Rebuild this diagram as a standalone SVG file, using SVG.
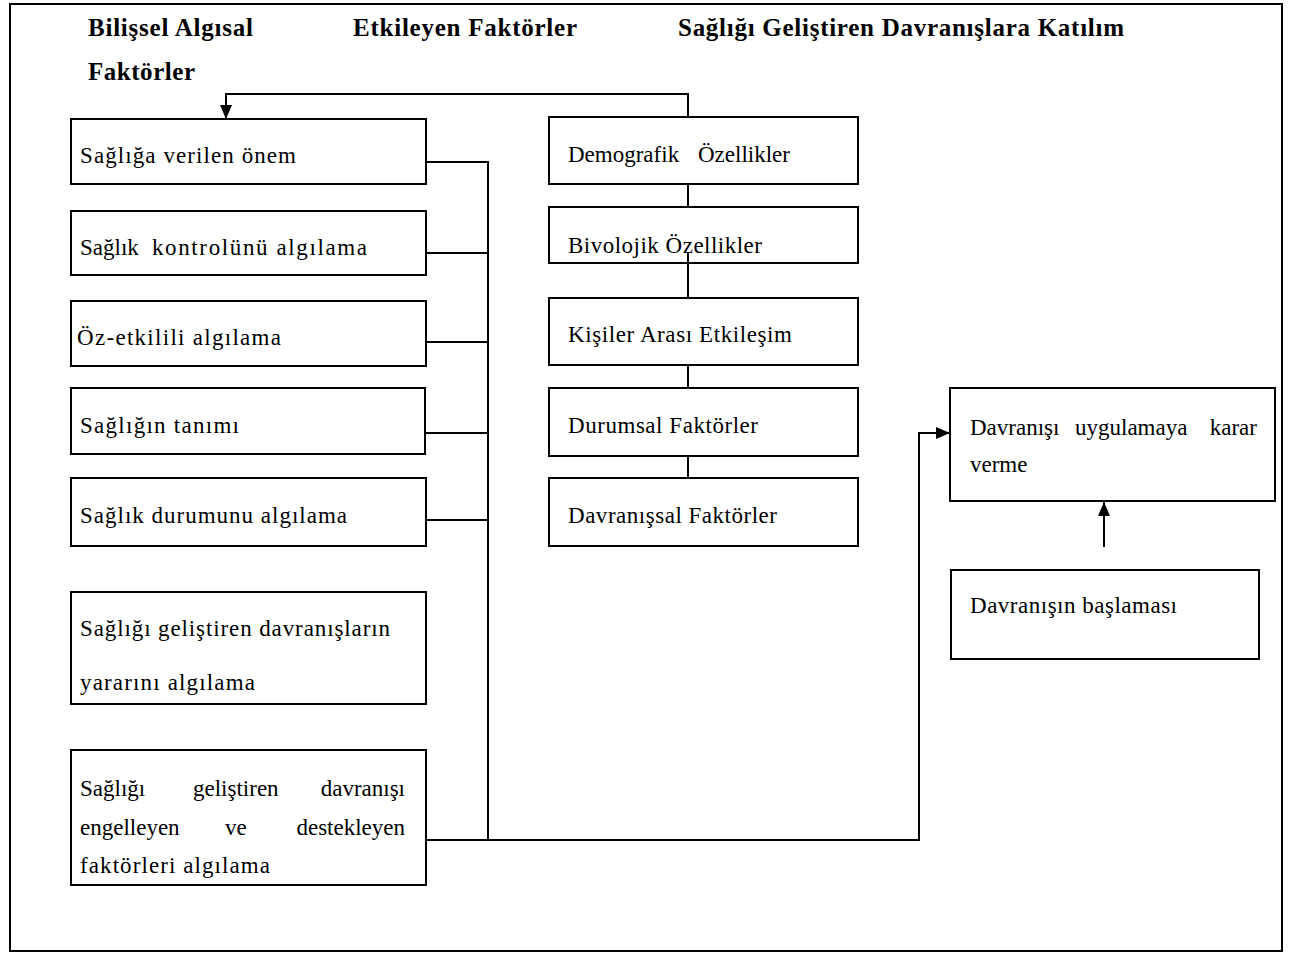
<svg xmlns="http://www.w3.org/2000/svg" width="1291" height="953" viewBox="0 0 1291 953">
<style>
.box{fill:#fff;stroke:#000;stroke-width:2}
.t{font-family:"Liberation Serif","Times New Roman",serif;font-size:23px;fill:#000}
.h{font-family:"Liberation Serif","Times New Roman",serif;font-size:25px;font-weight:bold;fill:#000}
.ln{fill:none;stroke:#000;stroke-width:2}
</style>
<defs>
<marker id="arr" markerUnits="userSpaceOnUse" markerWidth="14" markerHeight="12" refX="14" refY="6" orient="auto">
<path d="M0,0 L14,6 L0,12 Z" fill="#000"/>
</marker>
<clipPath id="c7"><rect x="71" y="750" width="355" height="135"/></clipPath>
<clipPath id="cb"><rect x="549" y="207" width="309" height="56"/></clipPath>
</defs>
<rect x="10" y="4" width="1272" height="947" fill="#fff" stroke="#000" stroke-width="2"/>
<g id="headings">
<text class="h" x="88" y="36" textLength="165" lengthAdjust="spacing">Bilişsel Algısal</text>
<text class="h" x="88" y="80" textLength="107" lengthAdjust="spacing">Faktörler</text>
<text class="h" x="353" y="36" textLength="224" lengthAdjust="spacing">Etkileyen Faktörler</text>
<text class="h" x="678" y="36" textLength="446" lengthAdjust="spacing">Sağlığı Geliştiren Davranışlara Katılım</text>
</g>
<g id="connectors">
<path class="ln" d="M688,117 V94 H226 V119" marker-end="url(#arr)"/>
<path class="ln" d="M426,162 H488 V840"/>
<path class="ln" d="M426,253 H488"/>
<path class="ln" d="M426,342 H488"/>
<path class="ln" d="M425,433 H488"/>
<path class="ln" d="M426,520 H488"/>
<path class="ln" d="M426,840 H919 V433 H950" marker-end="url(#arr)"/>
<path class="ln" d="M688,184 V207"/>
<path class="ln" d="M688,252 V298"/>
<path class="ln" d="M688,365 V388"/>
<path class="ln" d="M688,456 V478"/>
<path class="ln" d="M1104,547 V502" marker-end="url(#arr)"/>
</g>
<g id="n1"><rect class="box" x="71" y="119" width="355" height="65"/><text class="t" x="80" y="163" textLength="216" lengthAdjust="spacing">Sağlığa verilen önem</text></g>
<g id="n2"><rect class="box" x="71" y="211" width="355" height="64"/><text class="t" x="80" y="255">Sağlık</text><text class="t" x="152" y="255" textLength="215" lengthAdjust="spacing">kontrolünü algılama</text></g>
<g id="n3"><rect class="box" x="71" y="301" width="355" height="65"/><text class="t" x="77" y="345" textLength="204" lengthAdjust="spacing">Öz-etkilili algılama</text></g>
<g id="n4"><rect class="box" x="71" y="388" width="354" height="66"/><text class="t" x="80" y="433" textLength="159" lengthAdjust="spacing">Sağlığın tanımı</text></g>
<g id="n5"><rect class="box" x="71" y="478" width="355" height="68"/><text class="t" x="80" y="523" textLength="267" lengthAdjust="spacing">Sağlık durumunu algılama</text></g>
<g id="n6"><rect class="box" x="71" y="592" width="355" height="112"/><text class="t" x="80" y="636" textLength="310" lengthAdjust="spacing">Sağlığı geliştiren davranışların</text><text class="t" x="80" y="690" textLength="175" lengthAdjust="spacing">yararını algılama</text></g>
<g id="n7"><rect class="box" x="71" y="750" width="355" height="135"/>
<text class="t" x="80" y="796">Sağlığı</text><text class="t" x="193" y="796">geliştiren</text><text class="t" x="405" y="796" text-anchor="end">davranışı</text>
<text class="t" x="80" y="835">engelleyen</text><text class="t" x="225" y="835">ve</text><text class="t" x="405" y="835" text-anchor="end">destekleyen</text>
<text class="t" x="80" y="873" clip-path="url(#c7)" textLength="190" lengthAdjust="spacing">faktörleri algılama</text></g>
<g id="m1"><rect class="box" x="549" y="117" width="309" height="67"/><text class="t" x="568" y="162">Demografik</text><text class="t" x="698" y="162">Özellikler</text></g>
<g id="m2"><rect class="box" x="549" y="207" width="309" height="56"/><text class="t" x="568" y="253" clip-path="url(#cb)" textLength="194" lengthAdjust="spacing">Bivolojik Özellikler</text></g>
<g id="m3"><rect class="box" x="549" y="298" width="309" height="67"/><text class="t" x="568" y="342" textLength="224" lengthAdjust="spacing">Kişiler Arası Etkileşim</text></g>
<g id="m4"><rect class="box" x="549" y="388" width="309" height="68"/><text class="t" x="568" y="433" textLength="190" lengthAdjust="spacing">Durumsal Faktörler</text></g>
<g id="m5"><rect class="box" x="549" y="478" width="309" height="68"/><text class="t" x="568" y="523" textLength="209" lengthAdjust="spacing">Davranışsal Faktörler</text></g>
<g id="r1"><rect class="box" x="950" y="388" width="325" height="113"/>
<text class="t" x="970" y="435">Davranışı</text><text class="t" x="1075" y="435">uygulamaya</text><text class="t" x="1257" y="435" text-anchor="end">karar</text>
<text class="t" x="970" y="472">verme</text></g>
<g id="r2"><rect class="box" x="951" y="570" width="308" height="89"/><text class="t" x="970" y="613" textLength="207" lengthAdjust="spacing">Davranışın başlaması</text></g>
<path class="ln" d="M688,252 V263"/>
</svg>
